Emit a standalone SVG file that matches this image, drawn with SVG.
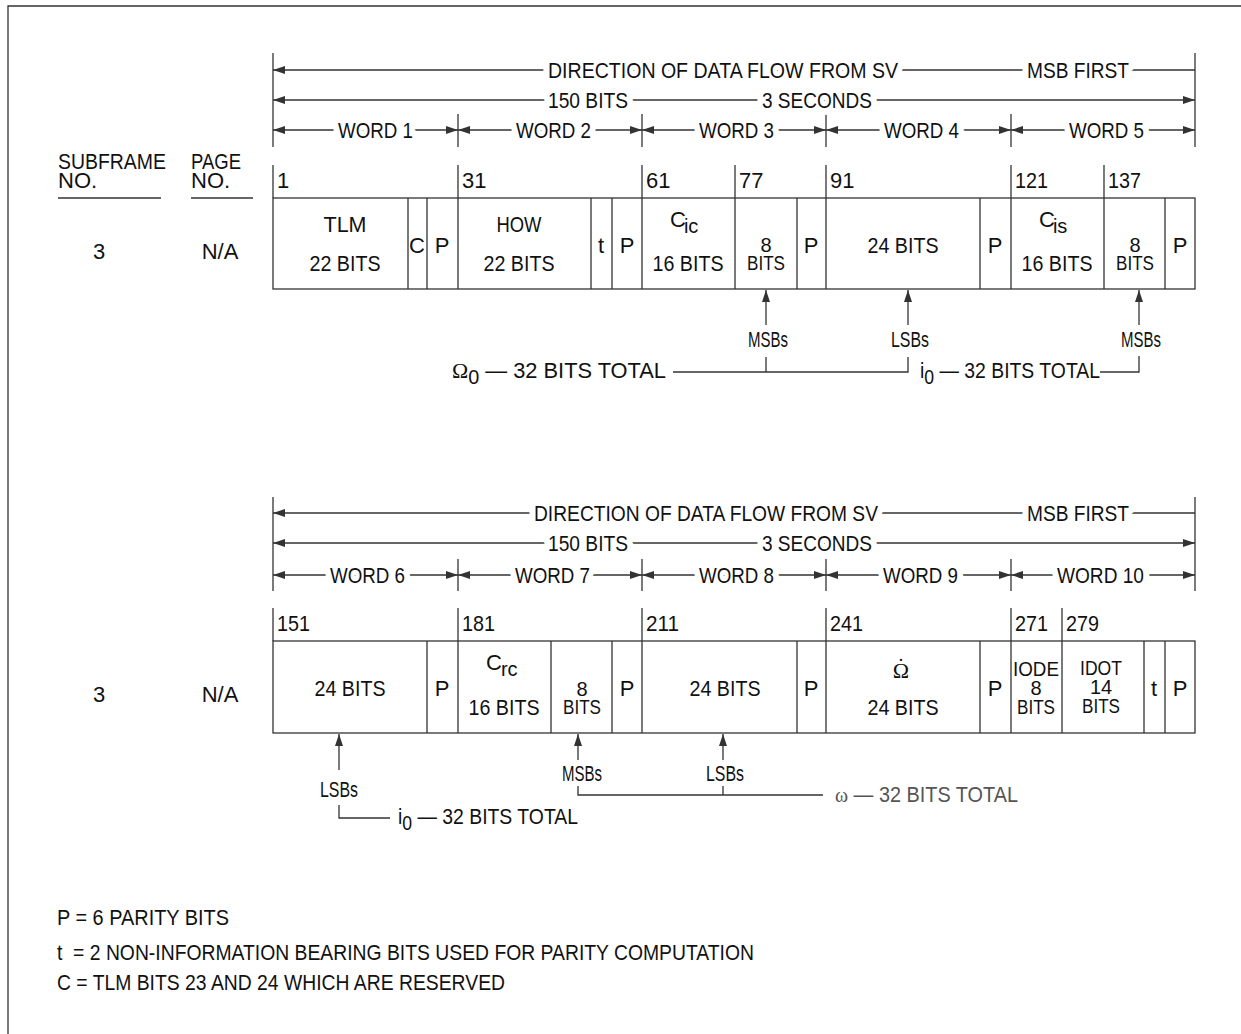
<svg xmlns="http://www.w3.org/2000/svg" width="1241" height="1034" viewBox="0 0 1241 1034">
<defs>
<marker id="ah" viewBox="0 0 12 8" refX="12" refY="4" markerWidth="12" markerHeight="8" markerUnits="userSpaceOnUse" orient="auto-start-reverse">
<path d="M0,0 L12,4 L0,8 z" fill="#333"/>
</marker>
<style>
text{font-family:"Liberation Sans",Arial,sans-serif;font-size:22px;fill:#111}
.m{text-anchor:middle}
.h{stroke:#fff;stroke-width:14px;paint-order:stroke;stroke-linejoin:round}
.ln{stroke:#333;stroke-width:1.3;fill:none}
.box{stroke:#333;stroke-width:1.3;fill:#fff}
.sub{font-size:20px}
.st{font-size:20px}
.g{fill:#555}
.ser{font-family:"Liberation Serif","Times New Roman",serif}
</style>
</defs>
<rect width="1241" height="1034" fill="#fff"/>
<path class="ln" d="M8,1034 V6 H1241"/>

<g id="legend-left">
<text x="58" y="169" textLength="108" lengthAdjust="spacingAndGlyphs">SUBFRAME</text>
<text x="58" y="188">NO.</text>
<line class="ln" x1="58" y1="198" x2="161" y2="198"/>
<text x="191" y="169" textLength="50" lengthAdjust="spacingAndGlyphs">PAGE</text>
<text x="191" y="188">NO.</text>
<line class="ln" x1="191" y1="198" x2="253" y2="198"/>
<text class="m" x="99" y="259">3</text>
<text class="m" x="220" y="259">N/A</text>
<text class="m" x="99" y="702">3</text>
<text class="m" x="220" y="702">N/A</text>
</g>

<g id="connectors">
<line class="ln" x1="273" y1="53" x2="273" y2="147"/>
<line class="ln" x1="1195" y1="53" x2="1195" y2="147"/>
<line class="ln" x1="458" y1="114" x2="458" y2="147"/>
<line class="ln" x1="642" y1="114" x2="642" y2="147"/>
<line class="ln" x1="826" y1="114" x2="826" y2="147"/>
<line class="ln" x1="1011" y1="114" x2="1011" y2="147"/>
<line class="ln" x1="273" y1="70" x2="1195" y2="70" marker-start="url(#ah)"/>
<line class="ln" x1="273" y1="100" x2="1195" y2="100" marker-start="url(#ah)" marker-end="url(#ah)"/>
<line class="ln" x1="273" y1="130" x2="458" y2="130" marker-start="url(#ah)" marker-end="url(#ah)"/>
<line class="ln" x1="458" y1="130" x2="642" y2="130" marker-start="url(#ah)" marker-end="url(#ah)"/>
<line class="ln" x1="642" y1="130" x2="826" y2="130" marker-start="url(#ah)" marker-end="url(#ah)"/>
<line class="ln" x1="826" y1="130" x2="1011" y2="130" marker-start="url(#ah)" marker-end="url(#ah)"/>
<line class="ln" x1="1011" y1="130" x2="1195" y2="130" marker-start="url(#ah)" marker-end="url(#ah)"/>
<line class="ln" x1="273" y1="497" x2="273" y2="591"/>
<line class="ln" x1="1195" y1="497" x2="1195" y2="591"/>
<line class="ln" x1="458" y1="559" x2="458" y2="591"/>
<line class="ln" x1="642" y1="559" x2="642" y2="591"/>
<line class="ln" x1="826" y1="559" x2="826" y2="591"/>
<line class="ln" x1="1011" y1="559" x2="1011" y2="591"/>
<line class="ln" x1="273" y1="513" x2="1195" y2="513" marker-start="url(#ah)"/>
<line class="ln" x1="273" y1="543" x2="1195" y2="543" marker-start="url(#ah)" marker-end="url(#ah)"/>
<line class="ln" x1="273" y1="575" x2="458" y2="575" marker-start="url(#ah)" marker-end="url(#ah)"/>
<line class="ln" x1="458" y1="575" x2="642" y2="575" marker-start="url(#ah)" marker-end="url(#ah)"/>
<line class="ln" x1="642" y1="575" x2="826" y2="575" marker-start="url(#ah)" marker-end="url(#ah)"/>
<line class="ln" x1="826" y1="575" x2="1011" y2="575" marker-start="url(#ah)" marker-end="url(#ah)"/>
<line class="ln" x1="1011" y1="575" x2="1195" y2="575" marker-start="url(#ah)" marker-end="url(#ah)"/>
<line class="ln" x1="766" y1="325" x2="766" y2="290" marker-end="url(#ah)"/>
<line class="ln" x1="908" y1="325" x2="908" y2="290" marker-end="url(#ah)"/>
<line class="ln" x1="1139" y1="325" x2="1139" y2="290" marker-end="url(#ah)"/>
<path class="ln" d="M673,372 H908 V357 M766,372 V357"/>
<path class="ln" d="M1100,372 H1139 V356"/>
<line class="ln" x1="339" y1="770" x2="339" y2="734" marker-end="url(#ah)"/>
<line class="ln" x1="578" y1="760" x2="578" y2="734" marker-end="url(#ah)"/>
<line class="ln" x1="723" y1="760" x2="723" y2="734" marker-end="url(#ah)"/>
<path class="ln" d="M339,805 V818 H390"/>
<path class="ln" d="M578,786 V795 H823 M723,786 V795"/>
</g>

<g id="scale-labels">
<text class="h" x="548" y="78" textLength="350" lengthAdjust="spacingAndGlyphs">DIRECTION OF DATA FLOW FROM SV</text>
<text class="h" x="1027" y="78" textLength="102" lengthAdjust="spacingAndGlyphs">MSB FIRST</text>
<text class="h" x="548" y="108" textLength="80" lengthAdjust="spacingAndGlyphs">150 BITS</text>
<text class="h" x="762" y="108" textLength="110" lengthAdjust="spacingAndGlyphs">3 SECONDS</text>
<text class="h" x="338" y="138" textLength="75" lengthAdjust="spacingAndGlyphs">WORD 1</text>
<text class="h" x="516" y="138" textLength="75" lengthAdjust="spacingAndGlyphs">WORD 2</text>
<text class="h" x="699" y="138" textLength="75" lengthAdjust="spacingAndGlyphs">WORD 3</text>
<text class="h" x="884" y="138" textLength="75" lengthAdjust="spacingAndGlyphs">WORD 4</text>
<text class="h" x="1069" y="138" textLength="75" lengthAdjust="spacingAndGlyphs">WORD 5</text>
<text class="h" x="534" y="521" textLength="344" lengthAdjust="spacingAndGlyphs">DIRECTION OF DATA FLOW FROM SV</text>
<text class="h" x="1027" y="521" textLength="102" lengthAdjust="spacingAndGlyphs">MSB FIRST</text>
<text class="h" x="548" y="551" textLength="80" lengthAdjust="spacingAndGlyphs">150 BITS</text>
<text class="h" x="762" y="551" textLength="110" lengthAdjust="spacingAndGlyphs">3 SECONDS</text>
<text class="h" x="330" y="583" textLength="75" lengthAdjust="spacingAndGlyphs">WORD 6</text>
<text class="h" x="515" y="583" textLength="75" lengthAdjust="spacingAndGlyphs">WORD 7</text>
<text class="h" x="699" y="583" textLength="75" lengthAdjust="spacingAndGlyphs">WORD 8</text>
<text class="h" x="883" y="583" textLength="75" lengthAdjust="spacingAndGlyphs">WORD 9</text>
<text class="h" x="1057" y="583" textLength="87" lengthAdjust="spacingAndGlyphs">WORD 10</text>
</g>

<g id="row1">
<line class="ln" x1="273" y1="165" x2="273" y2="198"/>
<line class="ln" x1="458" y1="165" x2="458" y2="198"/>
<line class="ln" x1="642" y1="165" x2="642" y2="198"/>
<line class="ln" x1="735" y1="165" x2="735" y2="198"/>
<line class="ln" x1="826" y1="165" x2="826" y2="198"/>
<line class="ln" x1="1011" y1="165" x2="1011" y2="198"/>
<line class="ln" x1="1104" y1="165" x2="1104" y2="198"/>
<text x="277" y="188">1</text>
<text x="462" y="188">31</text>
<text x="646" y="188">61</text>
<text x="739" y="188">77</text>
<text x="830" y="188">91</text>
<text x="1015" y="188" textLength="33" lengthAdjust="spacingAndGlyphs">121</text>
<text x="1108" y="188" textLength="33" lengthAdjust="spacingAndGlyphs">137</text>
<rect class="box" x="273" y="198" width="922" height="91"/>
<path class="ln" d="M408,198V289 M427,198V289 M458,198V289 M591,198V289 M612,198V289 M642,198V289 M735,198V289 M797,198V289 M826,198V289 M980,198V289 M1011,198V289 M1104,198V289 M1165,198V289"/>
<text class="m" x="345" y="232" textLength="43" lengthAdjust="spacingAndGlyphs">TLM</text>
<text class="m" x="345" y="271" textLength="71" lengthAdjust="spacingAndGlyphs">22 BITS</text>
<text class="m" x="417" y="253">C</text>
<text class="m" x="442" y="253">P</text>
<text class="m" x="519" y="232" textLength="45" lengthAdjust="spacingAndGlyphs">HOW</text>
<text class="m" x="519" y="271" textLength="71" lengthAdjust="spacingAndGlyphs">22 BITS</text>
<text class="m" x="601" y="253">t</text>
<text class="m" x="627" y="253">P</text>
<text x="670" y="227">C<tspan class="sub" dx="-2" dy="6">ic</tspan></text>
<text class="m" x="688" y="271" textLength="71" lengthAdjust="spacingAndGlyphs">16 BITS</text>
<text class="m st" x="766" y="252">8</text>
<text class="m st" x="766" y="270" textLength="38" lengthAdjust="spacingAndGlyphs">BITS</text>
<text class="m" x="811" y="253">P</text>
<text class="m" x="903" y="253" textLength="71" lengthAdjust="spacingAndGlyphs">24 BITS</text>
<text class="m" x="995" y="253">P</text>
<text x="1039" y="227">C<tspan class="sub" dx="-2" dy="6">is</tspan></text>
<text class="m" x="1057" y="271" textLength="71" lengthAdjust="spacingAndGlyphs">16 BITS</text>
<text class="m st" x="1135" y="252">8</text>
<text class="m st" x="1135" y="270" textLength="38" lengthAdjust="spacingAndGlyphs">BITS</text>
<text class="m" x="1180" y="253">P</text>
</g>

<g id="row1-notes">
<text class="m" x="768" y="347" textLength="40" lengthAdjust="spacingAndGlyphs">MSBs</text>
<text class="m" x="910" y="347" textLength="38" lengthAdjust="spacingAndGlyphs">LSBs</text>
<text class="m" x="1141" y="347" textLength="40" lengthAdjust="spacingAndGlyphs">MSBs</text>
<text x="452" y="378" textLength="214" lengthAdjust="spacingAndGlyphs"><tspan class="ser">Ω</tspan><tspan class="sub" dy="6">0</tspan><tspan dy="-6"> — 32 BITS TOTAL</tspan></text>
<text x="920" y="378" textLength="180" lengthAdjust="spacingAndGlyphs">i<tspan class="sub" dy="6">0</tspan><tspan dy="-6"> — 32 BITS TOTAL</tspan></text>
</g>

<g id="row2">
<line class="ln" x1="273" y1="608" x2="273" y2="641"/>
<line class="ln" x1="458" y1="608" x2="458" y2="641"/>
<line class="ln" x1="642" y1="608" x2="642" y2="641"/>
<line class="ln" x1="826" y1="608" x2="826" y2="641"/>
<line class="ln" x1="1011" y1="608" x2="1011" y2="641"/>
<line class="ln" x1="1062" y1="608" x2="1062" y2="641"/>
<text x="277" y="631" textLength="33" lengthAdjust="spacingAndGlyphs">151</text>
<text x="462" y="631" textLength="33" lengthAdjust="spacingAndGlyphs">181</text>
<text x="646" y="631" textLength="33" lengthAdjust="spacingAndGlyphs">211</text>
<text x="830" y="631" textLength="33" lengthAdjust="spacingAndGlyphs">241</text>
<text x="1015" y="631" textLength="33" lengthAdjust="spacingAndGlyphs">271</text>
<text x="1066" y="631" textLength="33" lengthAdjust="spacingAndGlyphs">279</text>
<rect class="box" x="273" y="641" width="922" height="92"/>
<path class="ln" d="M427,641V733 M458,641V733 M551,641V733 M612,641V733 M642,641V733 M797,641V733 M826,641V733 M980,641V733 M1011,641V733 M1062,641V733 M1144,641V733 M1165,641V733"/>
<text class="m" x="350" y="696" textLength="71" lengthAdjust="spacingAndGlyphs">24 BITS</text>
<text class="m" x="442" y="696">P</text>
<text x="486" y="670">C<tspan class="sub" dx="-1" dy="6">rc</tspan></text>
<text class="m" x="504" y="715" textLength="71" lengthAdjust="spacingAndGlyphs">16 BITS</text>
<text class="m st" x="582" y="696">8</text>
<text class="m st" x="582" y="714" textLength="38" lengthAdjust="spacingAndGlyphs">BITS</text>
<text class="m" x="627" y="696">P</text>
<text class="m" x="725" y="696" textLength="71" lengthAdjust="spacingAndGlyphs">24 BITS</text>
<text class="m" x="811" y="696">P</text>
<text class="m ser" x="901" y="678">Ω</text>
<text class="m ser" x="901" y="673">˙</text>
<text class="m" x="903" y="715" textLength="71" lengthAdjust="spacingAndGlyphs">24 BITS</text>
<text class="m" x="995" y="696">P</text>
<text class="m st" x="1036" y="676" textLength="46" lengthAdjust="spacingAndGlyphs">IODE</text>
<text class="m st" x="1036" y="695">8</text>
<text class="m st" x="1036" y="714" textLength="38" lengthAdjust="spacingAndGlyphs">BITS</text>
<text class="m st" x="1101" y="675" textLength="42" lengthAdjust="spacingAndGlyphs">IDOT</text>
<text class="m st" x="1101" y="694">14</text>
<text class="m st" x="1101" y="713" textLength="38" lengthAdjust="spacingAndGlyphs">BITS</text>
<text class="m" x="1154" y="696">t</text>
<text class="m" x="1180" y="696">P</text>
</g>

<g id="row2-notes">
<text class="m" x="339" y="797" textLength="38" lengthAdjust="spacingAndGlyphs">LSBs</text>
<text x="398" y="824" textLength="180" lengthAdjust="spacingAndGlyphs">i<tspan class="sub" dy="6">0</tspan><tspan dy="-6"> — 32 BITS TOTAL</tspan></text>
<text class="m" x="582" y="781" textLength="40" lengthAdjust="spacingAndGlyphs">MSBs</text>
<text class="m" x="725" y="781" textLength="38" lengthAdjust="spacingAndGlyphs">LSBs</text>
<text class="g" x="835" y="802" textLength="183" lengthAdjust="spacingAndGlyphs"><tspan class="ser">ω</tspan> — 32 BITS TOTAL</text>
</g>

<g id="notes">
<text x="57" y="925" textLength="172" lengthAdjust="spacingAndGlyphs">P = 6 PARITY BITS</text>
<text x="57" y="960" textLength="697" lengthAdjust="spacingAndGlyphs" xml:space="preserve">t  = 2 NON-INFORMATION BEARING BITS USED FOR PARITY COMPUTATION</text>
<text x="57" y="990" textLength="448" lengthAdjust="spacingAndGlyphs">C = TLM BITS 23 AND 24 WHICH ARE RESERVED</text>
</g>
</svg>
